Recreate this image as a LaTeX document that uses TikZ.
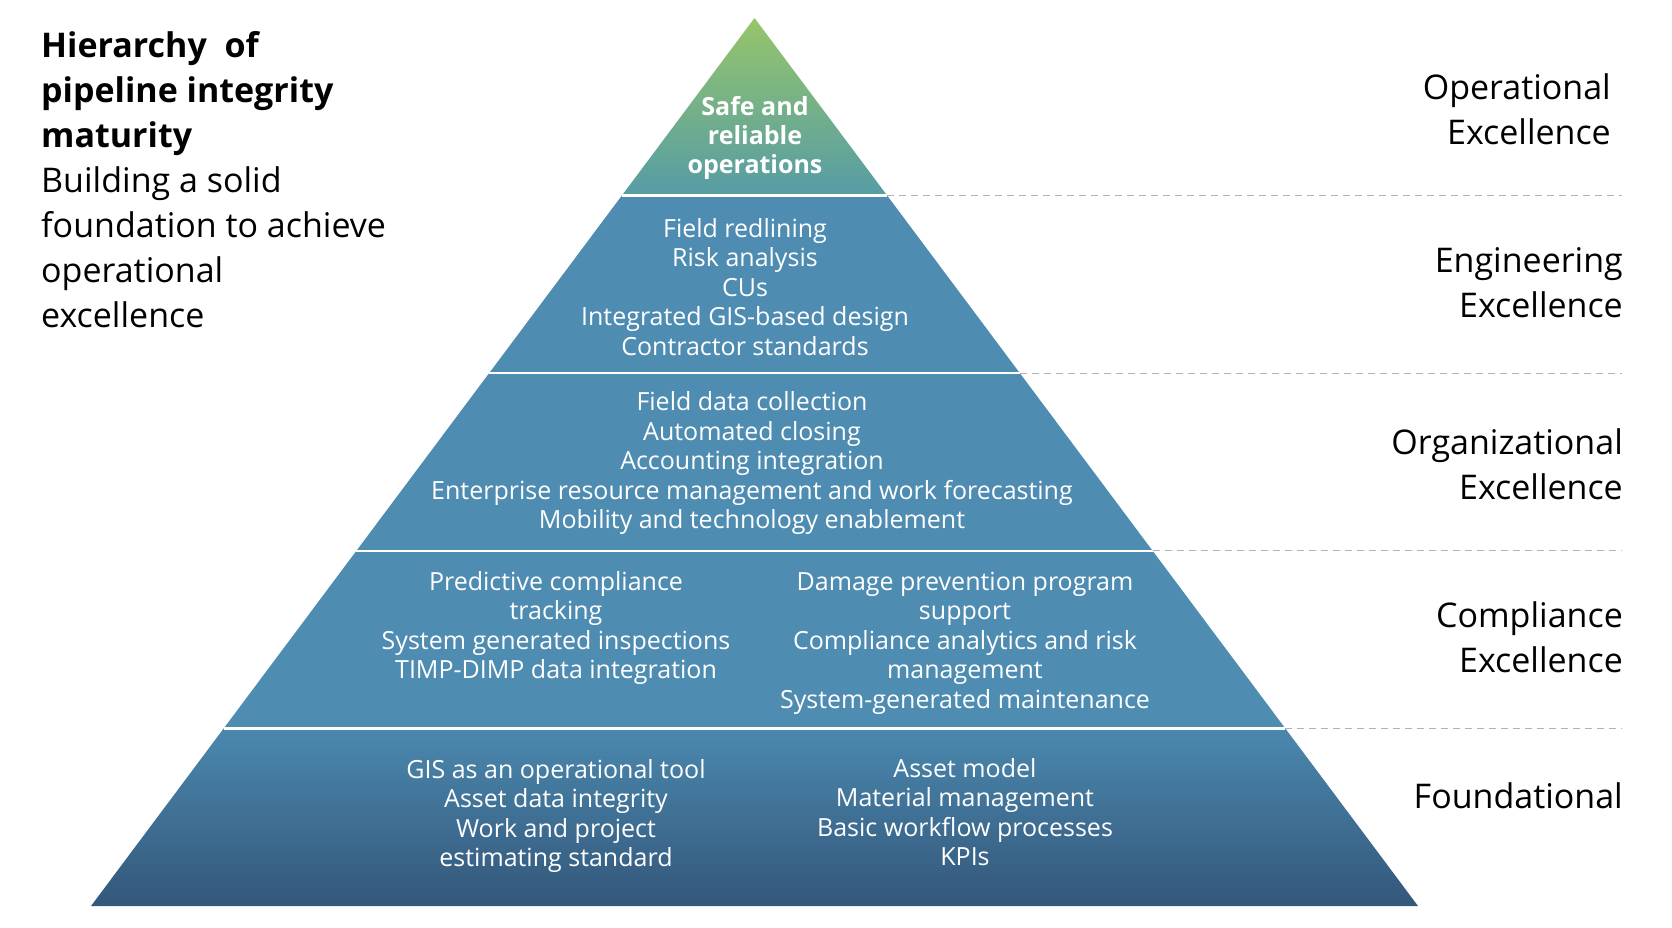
\documentclass[tikz,border=0pt]{standalone}
\usepackage{fontspec}
\setmainfont{Open Sans}
\usetikzlibrary{calc}

\definecolor{apexgreen}{HTML}{96C56A}
\definecolor{apexteal}{HTML}{559CA6}
\definecolor{steel}{HTML}{4F8CB2}
\definecolor{steeltop}{HTML}{4B88AE}
\definecolor{navy}{HTML}{33577A}

\begin{document}
\begin{tikzpicture}[
  x=1pt, y=-1pt,
  intxt/.style={
    text=white, align=center, inner sep=0pt,
    font=\fontsize{25}{29.5}\selectfont
  },
  lvl/.style={
    anchor=east, align=right, inner sep=0pt,
    font=\fontsize{34}{45}\selectfont
  },
  sep/.style={white, line width=2.5pt},
  guide/.style={gray!60, line width=1.2pt, dash pattern=on 7pt off 5pt}
]
\useasboundingbox (0,0) rectangle (1672,927);

% pyramid corners and level points
\coordinate (top) at (754.5,18);
\coordinate (bl) at (91,906);
\coordinate (br) at (1418,906);
\coordinate (rim) at (1622,0);
\foreach \i/\t in {1/0.2, 2/0.4, 3/0.6, 4/0.8} {
  \coordinate (l\i) at ($(top)!\t!(bl)$);
  \coordinate (r\i) at ($(top)!\t!(br)$);
}

% bands
\shade[top color=apexgreen, bottom color=apexteal] (top) -- (r1) -- (l1) -- cycle;
\fill[steel] (l1) -- (r1) -- (r4) -- (l4) -- cycle;
\shade[top color=steeltop, bottom color=navy] (l4) -- (r4) -- (br) -- (bl) -- cycle;

\foreach \i in {1,...,4} {
  \draw[sep] (l\i) -- (r\i);
  \draw[guide] (r\i) -- (r\i -| rim);
}

% text inside the pyramid
\node[intxt, font=\fontsize{25}{29}\selectfont\bfseries] (safe) at (755,138) {Safe and\\reliable\\operations};
\node[intxt] (eng) at (745,287) {Field redlining\\Risk analysis\\CUs\\Integrated GIS-based design\\Contractor standards};
\node[intxt] (org) at (752,463) {Field data collection\\Automated closing\\Accounting integration\\Enterprise resource management and work forecasting\\Mobility and technology enablement};
\node[intxt] (compl) at (556,628) {Predictive compliance\\tracking\\System generated inspections\\TIMP-DIMP data integration};
\node[intxt] (compr) at (965,643) {Damage prevention program\\support\\Compliance analytics and risk\\management\\System-generated maintenance};
\node[intxt] (fndl) at (556,816) {GIS as an operational tool\\Asset data integrity\\Work and project\\estimating standard};
\node[intxt] (fndr) at (965,812) {Asset model\\Material management\\Basic workflow processes\\KPIs};

% level names
\node[lvl] (opx) at (1611,109) {Operational\\Excellence};
\node[lvl] (engx) at (1623,283) {Engineering\\Excellence};
\node[lvl] (orgx) at (1623,464) {Organizational\\Excellence};
\node[lvl] (compx) at (1623,637) {Compliance\\Excellence};
\node[lvl] (fndx) at (1623,796) {Foundational};

% title
\node[anchor=north west, align=left, inner sep=0pt, font=\fontsize{34}{45}\selectfont] (title) at (41,31)
  {\textbf{Hierarchy\ \ of}\\\textbf{pipeline integrity}\\\textbf{maturity}\\Building a solid\\foundation to achieve\\operational\\excellence};

\end{tikzpicture}
\end{document}
